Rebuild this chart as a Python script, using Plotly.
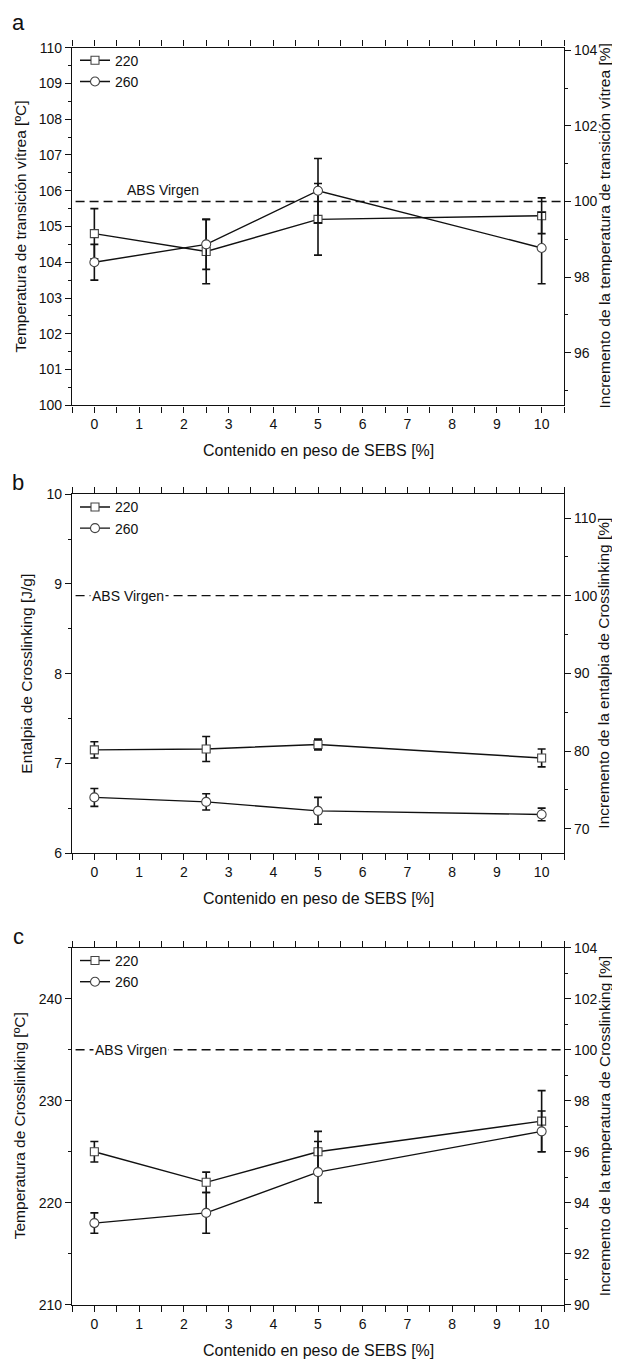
import plotly.graph_objects as go

# ---------------- data ----------------
x_sebs = [0, 2.5, 5, 10]
series_names = ["220", "260"]

# Panel a: glass transition temperature [ºC]
tg_220 = [104.8, 104.3, 105.2, 105.3]
tg_220_err = [0.7, 0.9, 1.0, 0.5]
tg_260 = [104.0, 104.5, 106.0, 104.4]
tg_260_err = [0.5, 0.7, 0.9, 1.0]
tg_virgen = 105.7

# Panel b: crosslinking enthalpy [J/g]
dh_220 = [7.15, 7.16, 7.21, 7.06]
dh_220_err = [0.09, 0.14, 0.06, 0.10]
dh_260 = [6.62, 6.57, 6.47, 6.43]
dh_260_err = [0.10, 0.09, 0.15, 0.07]
dh_virgen = 8.87

# Panel c: crosslinking temperature [ºC]
tc_220 = [225, 222, 225, 228]
tc_220_err = [1, 1, 2, 3]
tc_260 = [218, 219, 223, 227]
tc_260_err = [1, 2, 3, 2]
tc_virgen = 235

virgen_label = "ABS Virgen"
x_title = "Contenido en peso de SEBS [%]"
panel_letters = ["a", "b", "c"]
left_titles = ["Temperatura de transición vítrea [ºC]",
               "Entalpia de Crosslinking [J/g]",
               "Temperatura de Crosslinking [ºC]"]
right_titles = ["Incremento de la temperatura de transición vítrea [%]",
                "Incremento de la entalpia de Crosslinking [%]",
                "Incremento de la temperatura de Crosslinking [%]"]

# ---------------- layout helpers ----------------
OFF = 8                      # page body margin
W, H = 620 - OFF, 1365 - OFF
FONT = "Liberation Sans, Arial, sans-serif"
INK = "#111111"

def py(pix):
    return 1 - (pix - OFF) / H

def px(pix):
    return (pix - OFF) / W

x_dom = [px(72), px(564)]
panels_pix = [(40, 402), (492, 855), (951, 1312)]
y_doms = [[py(b), py(t)] for (t, b) in panels_pix]

left_ranges = [[100, 110], [6, 10], [210, 245]]
left_dticks = [1, 1, 10]
left_minor = [0.5, 0.5, 5]
right_ranges = [[100 / tg_virgen * 100, 110 / tg_virgen * 100], [66.86, 113.07], [90, 104]]
right_dticks = [2, 10, 2]
right_minor = [1, 5, 1]
virgens = [tg_virgen, dh_virgen, tc_virgen]
data = [
    (tg_220, tg_220_err, tg_260, tg_260_err),
    (dh_220, dh_220_err, dh_260, dh_260_err),
    (tc_220, tc_220_err, tc_260, tc_260_err),
]

fig = go.Figure()
layout = dict(
    width=W, height=H,
    margin=dict(l=0, r=0, t=0, b=0),
    paper_bgcolor="white", plot_bgcolor="white",
    font=dict(family=FONT, size=14, color=INK),
    showlegend=True,
)

axis_common = dict(
    showgrid=False, zeroline=False, showline=True, linecolor=INK, linewidth=1.3,
    ticks="outside", ticklen=6, tickwidth=1.1, tickcolor=INK,
    tickfont=dict(family=FONT, size=14, color=INK),
)

annotations = []
shapes = []

for i in range(3):
    xa = "x" if i == 0 else f"x{i+1}"
    xkey = "xaxis" if i == 0 else f"xaxis{i+1}"
    yl = 2 * i + 1
    yr = 2 * i + 2
    yl_name = "y" if yl == 1 else f"y{yl}"
    yr_name = f"y{yr}"
    yl_key = "yaxis" if yl == 1 else f"yaxis{yl}"
    yr_key = f"yaxis{yr}"
    leg = "legend" if i == 0 else f"legend{i+1}"

    layout[xkey] = dict(axis_common, domain=x_dom, anchor=yl_name, range=[-0.5, 10.5],
                        tick0=0, dtick=1, mirror="allticks",
                        minor=dict(ticks="outside", ticklen=3, tickwidth=1, tickcolor=INK,
                                   tick0=0, dtick=0.5, showgrid=False))
    layout[yl_key] = dict(axis_common, domain=y_doms[i], anchor=xa, range=left_ranges[i],
                          tick0=0, dtick=left_dticks[i], mirror=False,
                          minor=dict(ticks="outside", ticklen=3, tickwidth=1, tickcolor=INK,
                                     tick0=0, dtick=left_minor[i], showgrid=False))
    layout[yr_key] = dict(axis_common, overlaying=yl_name, side="right", anchor=xa,
                          range=right_ranges[i], tick0=0, dtick=right_dticks[i],
                          minor=dict(ticks="outside", ticklen=3, tickwidth=1, tickcolor=INK,
                                     tick0=0, dtick=right_minor[i], showgrid=False))

    top, bot = panels_pix[i]
    layout[leg] = dict(x=px(75), y=py(top - 3), xanchor="left", yanchor="top",
                       bgcolor="rgba(0,0,0,0)", borderwidth=0,
                       font=dict(family=FONT, size=14, color=INK),
                       itemwidth=30, tracegroupgap=0, traceorder="normal")

    v220, e220, v260, e260 = data[i]
    for name, vals, errs, sym, size in [(series_names[0], v220, e220, "square", 8),
                                        (series_names[1], v260, e260, "circle", 9)]:
        fig.add_trace(go.Scatter(
            x=x_sebs, y=vals, mode="lines+markers", name=name,
            xaxis=xa, yaxis=yl_name, legend=leg,
            line=dict(color=INK, width=1.4),
            marker=dict(symbol=sym, size=size, color="white",
                        line=dict(color="#444444", width=1.1)),
            error_y=dict(type="data", array=errs, visible=True,
                         color=INK, thickness=1.6, width=4),
            hoverinfo="skip",
        ))

    # empty trace so that the right-hand (percentage) axis is drawn
    fig.add_trace(go.Scatter(x=[], y=[], xaxis=xa, yaxis=yr_name, mode="markers",
                             showlegend=False, hoverinfo="skip"))

    # ABS Virgen reference line
    shapes.append(dict(type="line", xref=xa, yref=yl_name,
                       x0=-0.42, x1=10.5, y0=virgens[i], y1=virgens[i],
                       line=dict(color=INK, width=1.4, dash="9px,5px"), layer="below"))

    # axis titles and labels
    annotations.append(dict(text=x_title, xref="paper", yref="paper",
                            x=px(318), y=py(bot + 46), xanchor="center",
                            yanchor="middle", showarrow=False,
                            font=dict(family=FONT, size=16, color=INK)))
    lx = [20, 27, 19][i]
    annotations.append(dict(text=left_titles[i], xref="paper", yref="paper",
                            x=px(lx), y=py((top + bot) / 2), xanchor="center", yanchor="middle",
                            textangle=-90, showarrow=False,
                            font=dict(family=FONT, size=15.5, color=INK)))
    annotations.append(dict(text=right_titles[i], xref="paper", yref="paper",
                            x=px(604), y=py((top + bot) / 2), xanchor="center", yanchor="middle",
                            textangle=-90, showarrow=False,
                            font=dict(family=FONT, size=15.5, color=INK)))
    annotations.append(dict(text=panel_letters[i], xref="paper", yref="paper",
                            x=px(18), y=py([15, 480, 939][i]), xanchor="center", yanchor="middle",
                            showarrow=False, font=dict(family=FONT, size=22, color=INK)))

# ABS Virgen labels
annotations.append(dict(text=virgen_label, xref="x", yref="y", x=1.54, y=tg_virgen,
                        yshift=11, xanchor="center", yanchor="middle", showarrow=False,
                        font=dict(family=FONT, size=14, color=INK)))
annotations.append(dict(text=virgen_label, xref="x2", yref="y3", x=0.75, y=dh_virgen,
                        xanchor="center", yanchor="middle", showarrow=False,
                        bgcolor="white", borderpad=1,
                        font=dict(family=FONT, size=14, color=INK)))
annotations.append(dict(text=virgen_label, xref="x3", yref="y5", x=0.82, y=tc_virgen,
                        xanchor="center", yanchor="middle", showarrow=False,
                        bgcolor="white", borderpad=1,
                        font=dict(family=FONT, size=14, color=INK)))

layout["annotations"] = annotations
layout["shapes"] = shapes
fig.update_layout(**layout)

fig.write_html("out.html")
